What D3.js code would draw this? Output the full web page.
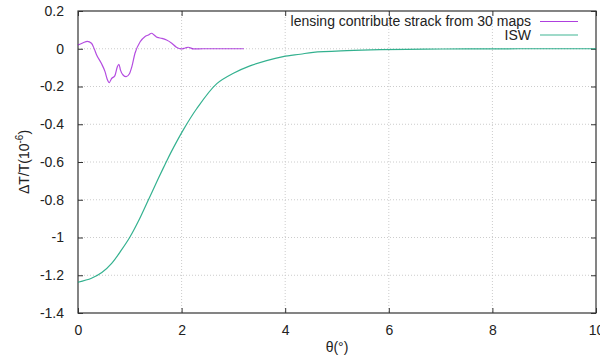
<!DOCTYPE html>
<html>
<head>
<meta charset="utf-8">
<script src="https://cdn.jsdelivr.net/npm/d3@7"></script>
<style>
  body { margin: 0; background: #fff; }
  text { font-family: "Liberation Sans", Arial, sans-serif; fill: #222; }
</style>
</head>
<body>
<div id="chart"></div>
<script>
// lensing contribute, stacked from 30 maps (theta in degrees, dT/T in 1e-6)
var lensTheta = [0, 0.10, 0.18, 0.26, 0.31, 0.36, 0.45, 0.52, 0.57, 0.60, 0.65, 0.71, 0.76, 0.79, 0.82, 0.87, 0.93, 0.99, 1.04, 1.10, 1.20, 1.29, 1.36, 1.42, 1.47, 1.53, 1.62, 1.71, 1.81, 1.90, 1.99, 2.07, 2.13, 2.23, 2.42, 2.8, 3.2];
var lensValue = [0.020, 0.032, 0.039, 0.029, 0.002, -0.033, -0.077, -0.120, -0.166, -0.180, -0.157, -0.144, -0.095, -0.082, -0.113, -0.139, -0.148, -0.134, -0.095, -0.024, 0.037, 0.064, 0.073, 0.082, 0.073, 0.060, 0.055, 0.046, 0.029, 0.008, -0.001, 0.004, 0.008, -0.001, 0, 0, 0];

// ISW profile
var iswTheta = [0, 0.26, 0.46, 0.65, 0.84, 1.00, 1.16, 1.36, 1.55, 1.68, 1.81, 2.03, 2.29, 2.68, 3.00, 3.32, 3.64, 3.96, 4.29, 4.54, 5.19, 5.83, 6.7, 7.5, 8.5, 10];
var iswValue = [-1.237, -1.216, -1.186, -1.137, -1.066, -0.999, -0.917, -0.800, -0.688, -0.613, -0.541, -0.431, -0.318, -0.185, -0.130, -0.091, -0.063, -0.042, -0.029, -0.019, -0.010, -0.005, -0.002, -0.001, 0, 0];

var xTicks = [0, 2, 4, 6, 8, 10];
var yTicks = [0.2, 0, -0.2, -0.4, -0.6, -0.8, -1, -1.2, -1.4];
var seriesNames = ["lensing contribute strack from 30 maps", "ISW"];
var seriesColors = ["#9400d3", "#009e73"];

var width = 600, height = 358;
var margin = {top: 11, right: 4, bottom: 45, left: 78};
var w = width - margin.left - margin.right,
    h = height - margin.top - margin.bottom;

var svg = d3.select("#chart").append("svg")
    .attr("width", width)
    .attr("height", height);

var g = svg.append("g")
    .attr("transform", "translate(" + margin.left + "," + margin.top + ")");

var x = d3.scaleLinear().domain([0, 10]).range([0, w]);
var y = d3.scaleLinear().domain([-1.4, 0.2]).range([h, 0]);

// grid
g.append("g").selectAll("line")
    .data(xTicks.slice(1, -1))
    .enter().append("line")
    .attr("x1", function(d){ return x(d); })
    .attr("x2", function(d){ return x(d); })
    .attr("y1", 0).attr("y2", h)
    .style("stroke", "#ccc").style("stroke-dasharray", "1,2");
g.append("g").selectAll("line")
    .data(yTicks.slice(1, -1))
    .enter().append("line")
    .attr("y1", function(d){ return y(d); })
    .attr("y2", function(d){ return y(d); })
    .attr("x1", 0).attr("x2", w)
    .style("stroke", "#ccc").style("stroke-dasharray", "1,2");

// axes (ticks pointing inward, mirrored)
var fmt = function(d){ return d3.format("")(+d.toFixed(1)).replace("−", "-"); };
g.append("g")
    .attr("transform", "translate(0," + h + ")")
    .call(d3.axisBottom(x).tickValues(xTicks).tickSizeInner(-5).tickSizeOuter(0).tickPadding(12).tickFormat(fmt));
g.append("g")
    .call(d3.axisLeft(y).tickValues(yTicks).tickSizeInner(-5).tickSizeOuter(0).tickPadding(14).tickFormat(fmt));
g.append("g")
    .call(d3.axisTop(x).tickValues(xTicks).tickSizeInner(-5).tickSizeOuter(0).tickFormat(""));
g.append("g")
    .attr("transform", "translate(" + w + ",0)")
    .call(d3.axisRight(y).tickValues(yTicks).tickSizeInner(-5).tickSizeOuter(0).tickFormat(""));

g.selectAll(".domain").remove();
g.selectAll(".tick line").style("stroke", "#333");
g.selectAll(".tick text").style("font-size", "14px").style("fill", "#222")
    .style("font-family", "'Liberation Sans', Arial, sans-serif");

g.append("rect")
    .attr("width", w).attr("height", h)
    .style("fill", "none").style("stroke", "#333").style("stroke-width", 1.2);

// lines
var lensData = lensTheta.map(function(t, i){ return [t, lensValue[i]]; });
var iswData = iswTheta.map(function(t, i){ return [t, iswValue[i]]; });

var lensLine = d3.line()
    .x(function(d){ return x(d[0]); })
    .y(function(d){ return y(d[1]); })
    .curve(d3.curveMonotoneX);
var iswLine = d3.line()
    .x(function(d){ return x(d[0]); })
    .y(function(d){ return y(d[1]); })
    .curve(d3.curveCatmullRom.alpha(0.5));

g.append("path").datum(iswData)
    .attr("d", iswLine)
    .style("fill", "none").style("stroke", seriesColors[1]).style("stroke-width", 1.2).style("opacity", 0.8);
g.append("path").datum(lensData)
    .attr("d", lensLine)
    .style("fill", "none").style("stroke", seriesColors[0]).style("stroke-width", 1.2).style("opacity", 0.7);

// legend
var legend = g.selectAll(".legend")
    .data(seriesNames)
    .enter().append("g")
    .attr("class", "legend")
    .attr("transform", function(d, i){ return "translate(0," + (10.5 + i * 13.5) + ")"; });
legend.append("text")
    .attr("x", 453).attr("y", 0).attr("dy", "0.35em")
    .style("text-anchor", "end").style("font-size", "14px")
    .text(function(d){ return d; });
legend.append("line")
    .attr("x1", 462).attr("x2", 500)
    .style("stroke", function(d, i){ return seriesColors[i]; })
    .style("stroke-width", 1.2).style("opacity", 0.75);

// axis titles
svg.append("text")
    .attr("x", margin.left + w / 2).attr("y", 352)
    .style("text-anchor", "middle").style("font-size", "14px")
    .text("θ(°)");

var yl = svg.append("text")
    .attr("transform", "translate(29," + (margin.top + h / 2) + ") rotate(-90)")
    .style("text-anchor", "middle").style("font-size", "14px");
yl.append("tspan").text("ΔT/T(10");
yl.append("tspan").attr("dy", "-6").style("font-size", "10px").text("-6");
yl.append("tspan").attr("dy", "6").text(")");
</script>
</body>
</html>
